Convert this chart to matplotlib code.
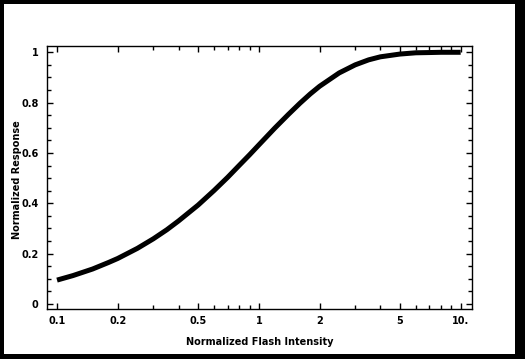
import numpy as np
import matplotlib.pyplot as plt
from matplotlib.patches import Rectangle
from matplotlib.ticker import FixedLocator, FixedFormatter

# values
intensity = [0.1, 0.12, 0.15, 0.18, 0.2, 0.25, 0.3, 0.35, 0.4, 0.5, 0.6, 0.7, 0.8, 0.9,
             1.0, 1.2, 1.4, 1.6, 1.8, 2.0, 2.5, 3.0, 3.5, 4.0, 5.0, 6.0, 7.0, 8.0, 10.0]
response = [0.095, 0.113, 0.139, 0.165, 0.181, 0.221, 0.259, 0.295, 0.330, 0.393, 0.451,
            0.503, 0.551, 0.593, 0.632, 0.699, 0.753, 0.798, 0.835, 0.865, 0.918, 0.950,
            0.970, 0.982, 0.993, 0.998, 0.999, 1.0, 1.0]

x_ticks = [0.1, 0.2, 0.5, 1, 2, 5, 10]
x_tick_labels = ["0.1", "0.2", "0.5", "1", "2", "5", "10."]
x_minor = [0.3, 0.4, 0.6, 0.7, 0.8, 0.9, 3, 4, 6, 7, 8, 9]
y_ticks = [0, 0.2, 0.4, 0.6, 0.8, 1]
y_tick_labels = ["0", "0.2", "0.4", "0.6", "0.8", "1"]

plt.rcParams['font.family'] = ['DejaVu Sans']
plt.rcParams['font.weight'] = 'bold'

fig = plt.figure(figsize=(5.25, 3.59), dpi=100)
fig.patch.set_facecolor('black')
fig.add_artist(Rectangle((4 / 525, 5 / 359), 511 / 525, 350 / 359,
                         transform=fig.transFigure, facecolor='white', edgecolor='none', zorder=0))

ax = fig.add_axes([47 / 525, 49.7 / 359, 424.7 / 525, 263.3 / 359])
ax.plot(intensity, response, color='black', lw=3.6, solid_capstyle='butt')

ax.set_xscale('log')
ax.set_xlim(0.0892, 11.34)
ax.set_ylim(-0.021, 1.025)

ax.xaxis.set_major_locator(FixedLocator(x_ticks))
ax.xaxis.set_major_formatter(FixedFormatter(x_tick_labels))
ax.xaxis.set_minor_locator(FixedLocator(x_minor))
ax.xaxis.set_minor_formatter(FixedFormatter([]))
ax.yaxis.set_major_locator(FixedLocator(y_ticks))
ax.yaxis.set_major_formatter(FixedFormatter(y_tick_labels))
ax.yaxis.set_minor_locator(FixedLocator(np.arange(0.05, 1.0, 0.05)))

ax.tick_params(which='both', direction='in', top=True, right=True, width=1, labelsize=7)
ax.tick_params(which='major', length=4)
ax.tick_params(which='minor', length=3)
ax.tick_params(axis='x', pad=5)
ax.tick_params(axis='y', pad=6)
for s in ax.spines.values():
    s.set_linewidth(1)

ax.set_xlabel("Normalized Flash Intensity", fontsize=7, fontweight='bold', va='center')
ax.set_ylabel("Normalized Response", fontsize=7, fontweight='bold', va='center')
ax.xaxis.set_label_coords(0.5, -0.124)
ax.yaxis.set_label_coords(-0.0706, 0.494)

fig.savefig('out.png', dpi=100, facecolor=fig.get_facecolor())
